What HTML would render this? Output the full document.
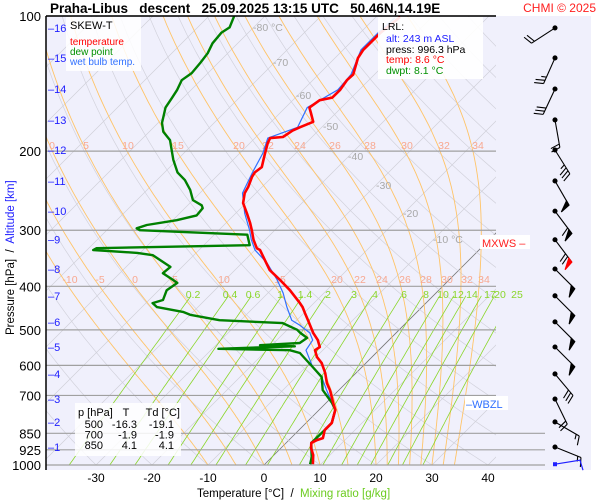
<!DOCTYPE html>
<html><head><meta charset="utf-8">
<style>
html,body{margin:0;padding:0;background:#fff;}
svg{display:block;font-family:"Liberation Sans",sans-serif;}
svg text{white-space:pre;}
</style></head>
<body>
<svg id="chart" width="600" height="500" viewBox="0 0 600 500">
<defs><clipPath id="pc"><rect x="46" y="16" width="450" height="449"/></clipPath></defs>
<rect x="46" y="16" width="545" height="454" fill="#f0f0fc"/>
<g id="grid" clip-path="url(#pc)"></g>
<g id="isobars"></g>
<g id="labels"></g>
<g id="series" clip-path="url(#pc)"></g>
<g id="winds"></g>
<g id="axes"></g>
<line x1="46" y1="16" x2="496" y2="16" stroke="#000" stroke-width="1.5"/>
<line x1="46" y1="16" x2="46" y2="470" stroke="#000" stroke-width="1.5"/>
<text x="50" y="13" font-size="13.5" font-weight="bold">Praha-Libus   descent   25.09.2025 13:15 UTC   50.46N,14.19E</text>
<text x="596" y="12" font-size="12" fill="#ff2020" text-anchor="end">CHMI © 2025</text>
<g>
<rect x="66" y="17" width="75" height="54" fill="#fff" opacity="0.85"/>
<text x="70" y="29" font-size="11">SKEW-T</text>
<text x="70" y="45" font-size="10" fill="#ff0000">temperature</text>
<text x="70" y="55" font-size="10" fill="#009000">dew point</text>
<text x="70" y="65" font-size="10" fill="#3070ff">wet bulb temp.</text>
</g>
<g>
<rect x="378" y="17" width="105" height="62" fill="#fff" opacity="0.9"/>
<text x="382" y="30" font-size="10.5">LRL:</text>
<text x="386" y="42" font-size="10.5" fill="#2020ff">alt: 243 m ASL</text>
<text x="386" y="53" font-size="10.5">press: 996.3 hPa</text>
<text x="386" y="63" font-size="10.5" fill="#ff0000">temp: 8.6 °C</text>
<text x="386" y="74" font-size="10.5" fill="#009000">dwpt: 8.1 °C</text>
</g>
<g>
<rect x="75" y="403" width="106" height="53" fill="#fff" opacity="0.85"/>
<text x="78" y="416" font-size="11">p [hPa]</text><text x="126" y="416" font-size="11" text-anchor="middle">T</text><text x="180" y="416" font-size="11" text-anchor="end">Td [°C]</text>
<g id="tbl" font-size="11"></g>
</g>
<g><rect x="480" y="235" width="50" height="14" fill="#fff"/><text x="482" y="247" font-size="11" fill="#ff2020">MXWS –</text></g>
<g><rect x="465" y="396" width="43" height="14" fill="#fff"/><text x="466" y="408" font-size="11" fill="#3070ff">–WBZL</text></g>
<text x="197" y="497" font-size="11.5">Temperature [°C]  /  <tspan fill="#6ccc20">Mixing ratio [g/kg]</tspan></text>
<text transform="translate(14,335) rotate(-90)" font-size="11.5">Pressure [hPa]  /  <tspan fill="#2020ff">Altitude [km]</tspan></text>
</svg>
<script>
// ---- data ----
const tempP=[996,950,917,893,880,871,836,806,754,728,681,657,624,593,575,555,546,527,508,476,459,445,436,408,387,368,332,329,315,300,289,275,261,248,240,228,223,217,209,202,192,187,186,180,177,172,164,160,154,152,146,139,135,124,119,115,109,100.5];
const tempT=[8.6,7.0,5.4,4.5,5.0,5.7,4.6,4.6,2.9,1.3,-1.6,-3.4,-5.5,-7.9,-9.8,-11.4,-11.1,-12.7,-14.8,-18.0,-19.8,-21.3,-22.5,-26.6,-30.2,-33.8,-39.1,-40.0,-42.1,-44.1,-45.7,-48.0,-50.5,-52.0,-52.5,-53.6,-53.9,-53.6,-54.6,-55.5,-56.8,-57.3,-55.2,-54.6,-53.9,-52.5,-54.6,-55.7,-55.2,-53.4,-53.4,-53.9,-53.8,-55.9,-56.4,-56.4,-56.4,-55.7];
const dewP=[996,985,960,893,836,806,754,728,681,637,605,563,555,551,544,541,535,521,508,500,483,476,463,456,445,436,429,408,393,387,374,362,341,337,332,329,324,307,300,297,292,285,278,268,264,257,244,232,223,209,201,189,181,173,160,152,146,139,134,127,121,115,109,106,100];
const dewT=[8.1,7.8,7.1,4.5,4.6,4.6,2.9,1.1,-2.9,-5.4,-8.8,-13.6,-15.9,-28.9,-15.7,-22.1,-15.4,-15.0,-17.1,-18.2,-22.0,-33.8,-40.0,-41.8,-47.3,-48.8,-47.5,-48.6,-48.0,-49.3,-52.3,-52.1,-57.3,-60.5,-68.9,-68.6,-41.8,-44.1,-64.1,-65.0,-63.8,-59.3,-56.6,-56.8,-57.5,-60.0,-62.3,-65.0,-67.7,-70.7,-72.3,-74.8,-77.5,-79.3,-81.4,-82.0,-82.5,-83.4,-82.9,-83.2,-83.6,-84.5,-84.8,-84.3,-85.5];
const wbP=[996,950,893,836,806,754,728,681,637,605,555,527,508,488,476,445,414,387,355,332,315,300,275,248,223,202,187,177,160,146,135,119,109,101];
const wbT=[8.3,6.6,4.4,4.5,4.5,2.8,1.1,-2.2,-5.4,-8.8,-13.0,-13.6,-15.4,-18.6,-20.9,-24.1,-27.3,-30.7,-35.5,-40.0,-42.5,-44.5,-48.4,-52.4,-54.3,-55.9,-57.7,-54.3,-56.1,-53.8,-54.2,-56.8,-56.8,-56.5];
const altKm=[16,15,14,13,12,11,10,9,8,7,6,5,4,3,2,1];
const altP=[106.3,124,145.4,170.4,198.8,233,272,315,366,420,480,546,627,713,802,912];
const windP=[106.3,124,145.4,170.4,198.8,233,272,315,366,420,480,546,627,713,802,912];
const windDir=[237,204,205,170,148,150,143,143,135,135,135,135,140,154,120,112];
const windSpd=[20,25,30,20,35,50,60,70,50,50,50,50,30,20,15,15];
const isobarP=[100,200,300,400,500,600,700,850,925,1000];
const tempTicks=[-30,-20,-10,0,10,20,30,40];
const isothermT=[-120,-110,-100,-90,-80,-70,-60,-50,-40,-30,-20,-10,0,10,20,30,40,50];
const dryTheta=[-40,-30,-20,-10,0,10,20,30,40,50,60,70,80,90,100,110,120,130,140,150,160,170,180,190,200];
const moistThetaW=[-10,-5,0,5,10,15,20,22,24,26,28,30,32,34];
const mixRatio=[0.2,0.4,0.6,1,1.4,2,3,4,6,8,10,12,14,17,20,25];
const tableP=["500","700","850"], tableT=["-16.3","-1.9","4.1"], tableTd=["-19.1","-1.9","4.1"];

// ---- scales ----
const NS="http://www.w3.org/2000/svg";
function Y(p){return 16+449*Math.log10(p/100);}
function X(T,p){return 264+5.6*T+(465-Y(p));}
function mk(tag,parent,attrs){const e=document.createElementNS(NS,tag);for(const k in attrs)e.setAttribute(k,attrs[k]);parent.appendChild(e);return e;}
function pathFrom(P,T){return P.map((p,i)=>(i?"L":"M")+X(T[i],p).toFixed(1)+","+Y(p).toFixed(1)).join("");}
const grid=document.getElementById("grid"),iso=document.getElementById("isobars"),lab=document.getElementById("labels"),ser=document.getElementById("series"),wnd=document.getElementById("winds"),ax=document.getElementById("axes");

isothermT.forEach(t=>{
  const l=mk("line",grid,{x1:X(t,1000),y1:Y(1000),x2:X(t,100),y2:Y(100),stroke:t===0?"#777":"#cfcfd8","stroke-width":t===0?0.8:0.7});
  
  
});
dryTheta.forEach(th=>{
  const P=[],T=[];for(let p=1050;p>=95;p-=10){P.push(p);T.push((th+273.15)*Math.pow(p/1000,0.286)-273.15);}
  const e=mk("path",grid,{d:pathFrom(P,T),fill:"none",stroke:"#d2d2dc","stroke-width":0.7});
  
  
});
function es(t){return 6.112*Math.exp(17.67*t/(t+243.5));}
function dTdp(Tc,p){const T=Tc+273.15,rs=0.622*es(Tc)/(p-es(Tc)),L=2.5e6,R=287,cp=1005;return (R*T+L*rs)/(p*(cp+L*L*rs*0.622/(R*T*T)));}
moistThetaW.forEach(tw=>{
  const P=[1000],T=[tw];let t=tw;
  for(let p=1000;p>100;p-=5){t-=dTdp(t,p)*5;P.push(p-5);T.push(t);}
  P.unshift(1050);T.unshift(tw+dTdp(tw,1000)*50);
  const e=mk("path",grid,{d:pathFrom(P,T),fill:"none",stroke:"#ffc468","stroke-width":0.9});
  
  
});
mixRatio.forEach(w=>{
  const P=[],T=[];for(let p=1050;p>=420;p-=10){const e=w*p/(622+w),ln=Math.log(e/6.112);P.push(p);T.push(243.5*ln/(17.67-ln));}
  const e=mk("path",grid,{d:pathFrom(P,T),fill:"none",stroke:"#8ad62a","stroke-width":0.8});
  
  
});
isobarP.forEach(p=>{
  const l=mk("line",iso,{x1:46,y1:Y(p),x2:p>=850?545:496,y2:Y(p),stroke:"#a0a0a0","stroke-width":1.2});
  
  
  const t=mk("text",ax,{x:41,y:Y(p)+5,"font-size":13,"text-anchor":"end"});t.textContent=p;
  
  
});
const isoLbl=[["-80 °C",253,31],["-70",273,66],["-60",296,99],["-50",323,130],["-40",348,160],["-30",376,189],["-20",403,217],["-10 °C",433,243]];
isoLbl.forEach(a=>{const t=mk("text",lab,{x:a[1],y:a[2],"font-size":10.5,fill:"#a8a8a8"});t.textContent=a[0];
  
  });
const mlTop=[["0",52],["5",86],["10",128],["15",178],["20",239],["22",268],["24",300],["26",335],["28",370],["30",407],["32",444],["34",478]];
mlTop.forEach(a=>{const t=mk("text",lab,{x:a[1],y:149,"font-size":10.5,fill:"#f8a890","text-anchor":"middle"});t.textContent=a[0];
  
  });
const mlMid=[["-10",70],["-5",100],["0",135],["5",175],["10",224],["15",280],["20",337],["22",360],["24",382],["26",405],["28",426],["30",447],["32",467],["34",484]];
mlMid.forEach(a=>{const t=mk("text",lab,{x:a[1],y:283,"font-size":10.5,fill:"#f8a890","text-anchor":"middle"});t.textContent=a[0];
  
  });
const mrx=[193,230,253,280,305,328,354,375,404,426,443,458,472,490,500,517];
mixRatio.forEach((w,i)=>{const t=mk("text",lab,{x:mrx[i],y:298,"font-size":10.5,fill:"#8ad62a","text-anchor":"middle"});t.textContent=w;
  
  });
tempTicks.forEach(t=>{const e=mk("text",ax,{x:X(t,1000),y:482,"font-size":12,"text-anchor":"middle"});e.textContent=t;
  
  });
altKm.forEach((k,i)=>{const e=mk("text",ax,{x:48,y:Y(altP[i])+4,"font-size":11,fill:"#2020ff"});e.textContent="–"+k;
  
  });
const sw=mk("path",ser,{d:pathFrom(wbP,wbT),fill:"none",stroke:"#3070ff","stroke-width":1.2});


const sd=mk("path",ser,{d:pathFrom(dewP,dewT),fill:"none",stroke:"#008000","stroke-width":2.4,"stroke-linejoin":"round"});


const st=mk("path",ser,{d:pathFrom(tempP,tempT),fill:"none",stroke:"#ff0000","stroke-width":2.6,"stroke-linejoin":"round"});


const tbl=document.getElementById("tbl");
tableP.forEach((p,i)=>{const y=428+i*10.5;
  const a=mk("text",tbl,{x:103,y:y,"text-anchor":"end"});a.textContent=p;
  
  
  const b=mk("text",tbl,{x:137,y:y,"text-anchor":"end"});b.textContent=tableT[i];
  
  
  const c=mk("text",tbl,{x:174,y:y,"text-anchor":"end"});c.textContent=tableTd[i];
  
  
});
windP.forEach((p,i)=>{
  const col=i===7?"#ff0000":"#000";
  const g=mk("g",wnd,{stroke:"#000",fill:"#000","stroke-width":1.1});
  
  
  const x0=555,y0=Y(p),d=windDir[i]*Math.PI/180,L=28;
  const dx=Math.sin(d),dy=-Math.cos(d),px=-dy,py=dx;
  const x1=x0+dx*L,y1=y0+dy*L;
  mk("line",g,{x1:x0,y1:y0,x2:x1,y2:y1});
  mk("circle",g,{cx:x0,cy:y0,r:2});
  let s=windSpd[i],pos=0;
  while(s>=50){const bx=x1-dx*pos,by=y1-dy*pos;mk("polygon",g,{points:`${bx},${by} ${bx+px*10+dx*2},${by+py*10+dy*2} ${bx-dx*5},${by-dy*5}`,fill:col,stroke:col});pos+=7;s-=50;}
  while(s>=10){const bx=x1-dx*pos,by=y1-dy*pos;mk("line",g,{x1:bx,y1:by,x2:bx+px*9+dx*3,y2:by+py*9+dy*3});pos+=3.5;s-=10;}
  if(s>=5){const bx=x1-dx*pos,by=y1-dy*pos;mk("line",g,{x1:bx,y1:by,x2:bx+px*5+dx*1.5,y2:by+py*5+dy*1.5});}
});
const sb=mk("path",wnd,{d:`M555,${Y(996)}L580,${Y(996)-4}L583,${Y(996)+6}`,fill:"none",stroke:"#2020ff","stroke-width":1.2});


mk("rect",wnd,{x:553,y:Y(996)-2,width:4,height:4,fill:"#2020ff"});
</script>
</body></html>
